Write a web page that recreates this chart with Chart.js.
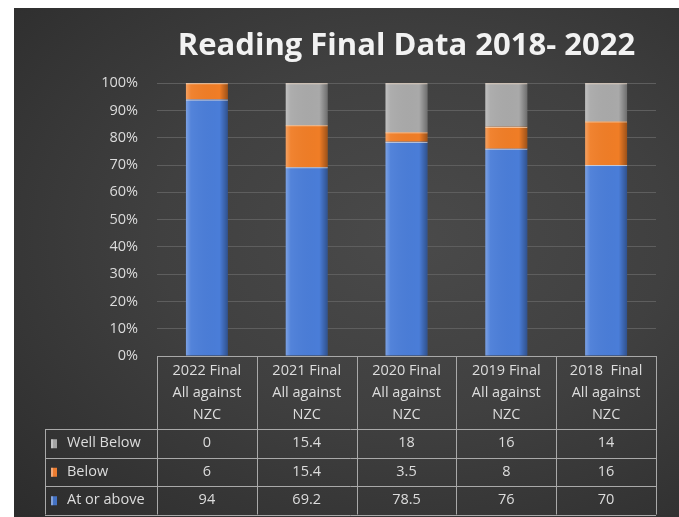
<!DOCTYPE html>
<html>
<head>
<meta charset="utf-8">
<script src="https://cdn.jsdelivr.net/npm/chart.js@4/dist/chart.umd.min.js"></script>
<style>
  html, body { margin: 0; padding: 0; background: #fff; }
  #panel {
    position: absolute; left: 14px; top: 8px; width: 665px; height: 509px;
    background: radial-gradient(ellipse at 60% 45%, #4a4a4a 0%, #404040 45%, #2c2c2c 100%);
  }
  canvas { display: block; }
</style>
</head>
<body>
<div id="panel"><canvas id="readingChart" width="665" height="509"></canvas></div>
<script>
// data
const categories = [
    ['2022 Final', 'All against', 'NZC'],
    ['2021 Final', 'All against', 'NZC'],
    ['2020 Final', 'All against', 'NZC'],
    ['2019 Final', 'All against', 'NZC'],
    ['2018  Final', 'All against', 'NZC']
];
const atOrAbove = [94, 69.2, 78.5, 76, 70];
const below = [6, 15.4, 3.5, 8, 16];
const wellBelow = [0, 15.4, 18, 16, 14];
const yTicks = [0, 10, 20, 30, 40, 50, 60, 70, 80, 90, 100];

const textColor = '#dcdcdc';
const lineColor = '#a9a9a9';
const fontFamily = "'Open Sans', 'Liberation Sans', sans-serif";

// bevel look on each bar
const bevelPlugin = {
    id: 'bevel',
    afterDatasetsDraw(chart) {
        const ctx = chart.ctx;
        chart.data.datasets.forEach((ds, i) => {
            const meta = chart.getDatasetMeta(i);
            meta.data.forEach(bar => {
                const left = bar.x - bar.width / 2;
                const top = Math.min(bar.y, bar.base);
                const h = Math.abs(bar.base - bar.y);
                if (h < 0.5) return;
                const g = ctx.createLinearGradient(left, 0, left + bar.width, 0);
                g.addColorStop(0, 'rgba(255,255,255,0.28)');
                g.addColorStop(0.12, 'rgba(255,255,255,0.05)');
                g.addColorStop(0.8, 'rgba(0,0,0,0)');
                g.addColorStop(1, 'rgba(0,0,0,0.35)');
                ctx.save();
                ctx.fillStyle = g;
                ctx.fillRect(left, top, bar.width, h);
                ctx.fillStyle = 'rgba(255,235,215,0.7)';
                ctx.fillRect(left, top, bar.width, 1);
                ctx.restore();
            });
        });
    }
};

// data table under the plot
const tablePlugin = {
    id: 'dataTable',
    afterDraw(chart) {
        const ctx = chart.ctx;
        const area = chart.chartArea;
        const xs = chart.scales.x;
        const colW = (area.right - area.left) / categories.length;
        const headTop = area.bottom;
        const headBottom = headTop + 73;
        const rowH = 28.5;
        const labelLeft = 31;
        const rows = [
            { name: 'Well Below', values: wellBelow, color: '#a5a5a5' },
            { name: 'Below', values: below, color: '#ed7d31' },
            { name: 'At or above', values: atOrAbove, color: '#4472c4' }
        ];
        const bottom = headBottom + rowH * rows.length;

        ctx.save();
        ctx.strokeStyle = lineColor;
        ctx.lineWidth = 1;
        ctx.beginPath();
        // header box
        ctx.moveTo(area.left, headTop + 0.5); ctx.lineTo(area.right, headTop + 0.5);
        for (let i = 0; i <= categories.length; i++) {
            const x = Math.round(area.left + colW * i) + 0.5;
            ctx.moveTo(x, headTop); ctx.lineTo(x, bottom);
        }
        // row lines
        for (let r = 0; r <= rows.length; r++) {
            const y = Math.round(headBottom + rowH * r) + 0.5;
            ctx.moveTo(labelLeft, y); ctx.lineTo(area.right, y);
        }
        ctx.moveTo(labelLeft + 0.5, headBottom); ctx.lineTo(labelLeft + 0.5, bottom);
        ctx.stroke();

        ctx.fillStyle = textColor;
        ctx.font = '14.5px ' + fontFamily;
        ctx.textAlign = 'center';
        ctx.textBaseline = 'middle';
        categories.forEach((lines, i) => {
            const cx = xs.getPixelForValue(i);
            lines.forEach((t, k) => ctx.fillText(t, cx, headTop + 15 + k * 22));
        });

        rows.forEach((row, r) => {
            const cy = headBottom + rowH * r + rowH / 2;
            // legend key
            ctx.fillStyle = row.color;
            ctx.fillRect(labelLeft + 6, cy - 4, 6, 9);
            ctx.fillStyle = 'rgba(255,255,255,0.35)';
            ctx.fillRect(labelLeft + 6, cy - 4, 2, 9);
            ctx.fillStyle = textColor;
            ctx.textAlign = 'left';
            ctx.fillText(row.name, labelLeft + 22, cy);
            ctx.textAlign = 'center';
            row.values.forEach((v, i) => {
                ctx.fillText(String(v), xs.getPixelForValue(i), cy);
            });
        });
        ctx.restore();
    }
};

new Chart(document.getElementById('readingChart'), {
    type: 'bar',
    data: {
        labels: categories,
        datasets: [
            { label: 'At or above', data: atOrAbove, backgroundColor: '#4a7dd8' },
            { label: 'Below', data: below, backgroundColor: '#f07d26' },
            { label: 'Well Below', data: wellBelow, backgroundColor: '#a9a9a9' }
        ]
    },
    options: {
        responsive: false,
        animation: false,
        layout: { padding: { left: 0, right: 23, top: 0, bottom: 161 } },
        datasets: { bar: { categoryPercentage: 1, barPercentage: 0.42, borderWidth: 0 } },
        scales: {
            x: { stacked: true, display: false },
            y: {
                stacked: true,
                min: 0,
                max: 100,
                afterBuildTicks: scale => { scale.ticks = yTicks.map(v => ({ value: v })); },
                afterFit: scale => { scale.width = 143; },
                ticks: {
                    color: textColor,
                    padding: 19,
                    font: { family: fontFamily, size: 14.5 },
                    callback: v => v + '%'
                },
                grid: { color: '#5e5e5e', drawTicks: false },
                border: { display: false }
            }
        },
        plugins: {
            legend: { display: false },
            tooltip: { enabled: false },
            title: {
                display: true,
                fullSize: false,
                text: 'Reading Final Data 2018- 2022',
                color: '#f2f2f2',
                font: { family: fontFamily, size: 31, weight: 'bold' },
                padding: { top: 20, bottom: 18 }
            }
        }
    },
    plugins: [bevelPlugin, tablePlugin]
});
</script>
</body>
</html>
